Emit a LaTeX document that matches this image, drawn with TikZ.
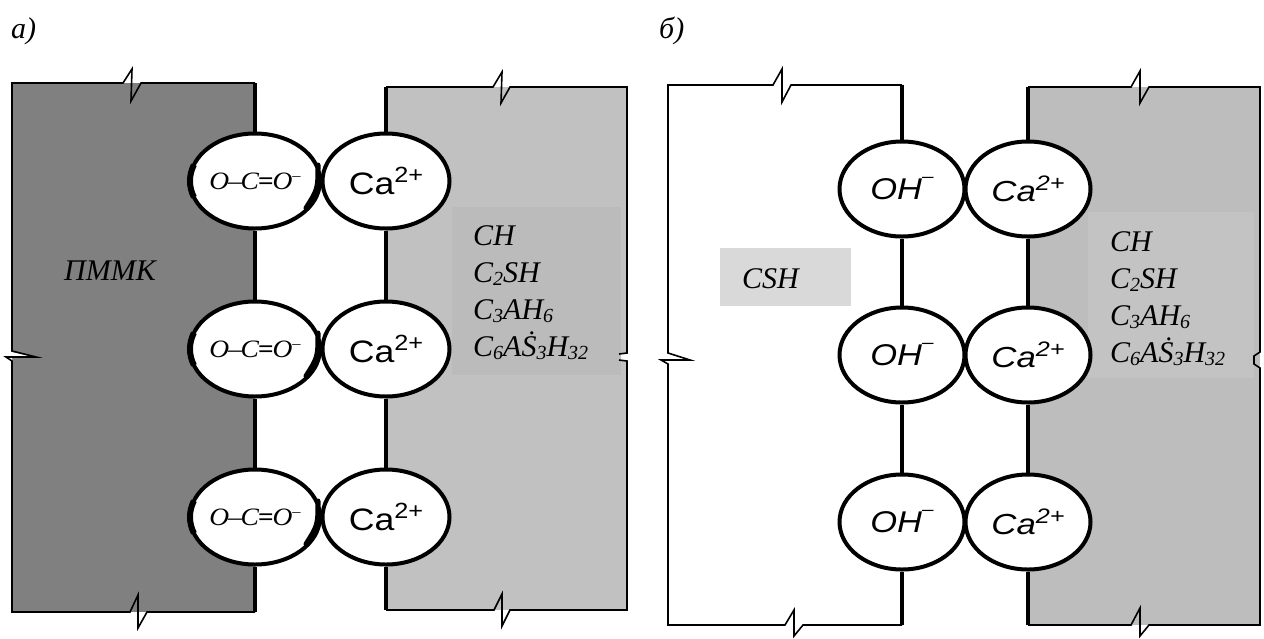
\documentclass[tikz,border=0pt]{standalone}
\usepackage{fontspec}
\usepackage{graphicx}
\setmainfont{Liberation Serif}
\newfontfamily\sansf{Liberation Sans}
\usetikzlibrary{shapes.geometric,calc}
\definecolor{darkfill}{RGB}{128,128,128}
\definecolor{lightfill}{RGB}{193,193,193}
\definecolor{boxfillL}{RGB}{187,187,187}
\definecolor{rightfill}{RGB}{189,189,189}
\definecolor{boxfillR}{RGB}{195,195,195}
\definecolor{cshfill}{RGB}{217,217,217}
\newcommand\sbx[1]{\raisebox{-0.12em}{\fontsize{20}{20}\selectfont #1}}
\newcommand\octext{\scalebox{1.1}[1]{\fontsize{25}{25}\selectfont\itshape O\kern-1pt–\kern-1pt C\kern-1pt{\bfseries=}\kern-1pt O\raisebox{9pt}{\fontsize{15}{15}\selectfont –}}}
\newcommand\catext{\scalebox{1.15}[1]{\sansf\fontsize{31}{31}\selectfont Ca\raisebox{12pt}{\fontsize{22}{22}\selectfont 2+}}}
\newcommand\catextit{\scalebox{1.2}[1]{\sansf\itshape\fontsize{29}{29}\selectfont Ca\raisebox{11pt}{\fontsize{21}{21}\selectfont 2+}}}
\newcommand\ohtext{\scalebox{1.15}[1]{\sansf\itshape\fontsize{30}{30}\selectfont OH\raisebox{17pt}{\fontsize{18}{18}\selectfont –}}}
\begin{document}
\begin{tikzpicture}[x=1pt,y=-1pt,
  outl/.style={line width=1.6pt, line join=miter},
  bar/.style={line width=4pt},
  ion/.style={ellipse, draw, line width=4pt, fill=white, minimum height=95pt, inner sep=0pt},
  lbl/.style={anchor=base west, inner sep=0pt, font=\fontsize{30}{36}\selectfont\itshape},
]
\useasboundingbox (0,0) rectangle (1264,638);
\fill[white] (0,0) rectangle (1264,638);

% ---------- panel a ----------
\fill[darkfill] (12,83) rectangle (255,612);
\fill[lightfill] (386,87) rectangle (627,610);
\fill[boxfillL] (452,207) rectangle (621,375);
\fill[white] (12,352) -- (35,357) -- (6,357) -- (12,360) -- cycle;
\fill[white] (621,354) rectangle (629,360);

\draw[outl] (255,83) -- (141,83) -- (131,101) -- (132,69) -- (123,83) -- (12,83) -- (12,351)
  -- (36,357) -- (6,357) -- (12,361) -- (12,612) -- (130,612) -- (138,595) -- (138,628)
  -- (147,612) -- (255,612);
\draw[outl] (386,87) -- (493,87) -- (502,72) -- (501,103) -- (510,87) -- (627,87) -- (627,353)
  -- (619,354);
\draw[outl] (619,360) -- (627,361) -- (627,610) -- (510,610) -- (502,626) -- (502,594)
  -- (494,610) -- (386,610);

\node[ion, minimum width=130pt] (o1) at (255,181) {\octext};
\node[ion, minimum width=130pt] (o2) at (255,349) {\octext};
\node[ion, minimum width=130pt] (o3) at (255,517) {\octext};
\node[ion, minimum width=127pt] (c1) at (386,181) {\catext};
\node[ion, minimum width=127pt] (c2) at (386,349) {\catext};
\node[ion, minimum width=127pt] (c3) at (386,517) {\catext};

\coordinate (at1) at (255,83);
\coordinate (ab1) at (255,612);
\coordinate (at2) at (386,87);
\coordinate (ab2) at (386,610);
\draw[bar] (at1) -- (o1.north) (o1.south) -- (o2.north) (o2.south) -- (o3.north) (o3.south) -- (ab1);
\draw[bar] (at2) -- (c1.north) (c1.south) -- (c2.north) (c2.south) -- (c3.north) (c3.south) -- (ab2);

\foreach \n in {o1,o2,o3}{
  \draw[line width=6pt] ($(\n.center)+(160:65 and 47.5)$) arc[start angle=160,end angle=200,x radius=65,y radius=47.5];
  \draw[line width=5pt, line cap=round] ($(\n.center)+(63,-16)$) .. controls ($(\n.center)+(63,8)$) .. ($(\n.center)+(51,27)$);
}

\node[lbl] (la) at (11,38) {а)};
\node[lbl] (pm) at (64,280) {ПММК};
\node[lbl] (l1) at (473,245) {CH};
\node[lbl] (l2) at (473,282) {C\sbx{2}SH};
\node[lbl] (l3) at (473,319) {C\sbx{3}AH\sbx{6}};
\node[lbl] (l4) at (473,356) {C\sbx{6}A\.{S}\sbx{3}H\sbx{32}};

% ---------- panel b ----------
\fill[rightfill] (1028,87) rectangle (1260,625);
\fill[boxfillR] (1088,212) rectangle (1254,378);
\fill[cshfill] (720,248) rectangle (851,306);
\fill[white] (668,353) -- (690,360) -- (661,360) -- (668,364) -- cycle;

\draw[outl] (902,85) -- (791,85) -- (782,102) -- (782,69) -- (773,85) -- (668,85) -- (668,353)
  -- (690,360) -- (661,360) -- (668,364) -- (668,625) -- (785,625) -- (794,610) -- (794,636)
  -- (803,625) -- (902,625);
\draw[outl] (1028,87) -- (1131,87) -- (1140,71) -- (1140,103) -- (1149,87) -- (1260,87)
  -- (1260,352) -- (1254,356) -- (1254,364) -- (1260,368) -- (1260,625) -- (1149,625)
  -- (1140,636) -- (1140,608) -- (1131,625) -- (1028,625);

\node[ion, minimum width=125pt] (h1) at (902,189) {\ohtext};
\node[ion, minimum width=125pt] (h2) at (902,355) {\ohtext};
\node[ion, minimum width=125pt] (h3) at (902,522) {\ohtext};
\node[ion, minimum width=125pt] (k1) at (1028,189) {\catextit};
\node[ion, minimum width=125pt] (k2) at (1028,355) {\catextit};
\node[ion, minimum width=125pt] (k3) at (1028,522) {\catextit};

\coordinate (bt1) at (902,85);
\coordinate (bb1) at (902,625);
\coordinate (bt2) at (1028,87);
\coordinate (bb2) at (1028,625);
\draw[bar] (bt1) -- (h1.north) (h1.south) -- (h2.north) (h2.south) -- (h3.north) (h3.south) -- (bb1);
\draw[bar] (bt2) -- (k1.north) (k1.south) -- (k2.north) (k2.south) -- (k3.north) (k3.south) -- (bb2);

\node[lbl] (lb) at (659,38) {б)};
\node[lbl] (csh) at (742,288) {CSH};
\node[lbl] (r1) at (1110,251) {CH};
\node[lbl] (r2) at (1110,288) {C\sbx{2}SH};
\node[lbl] (r3) at (1110,325) {C\sbx{3}AH\sbx{6}};
\node[lbl] (r4) at (1110,362) {C\sbx{6}A\.{S}\sbx{3}H\sbx{32}};
\end{tikzpicture}
\end{document}
